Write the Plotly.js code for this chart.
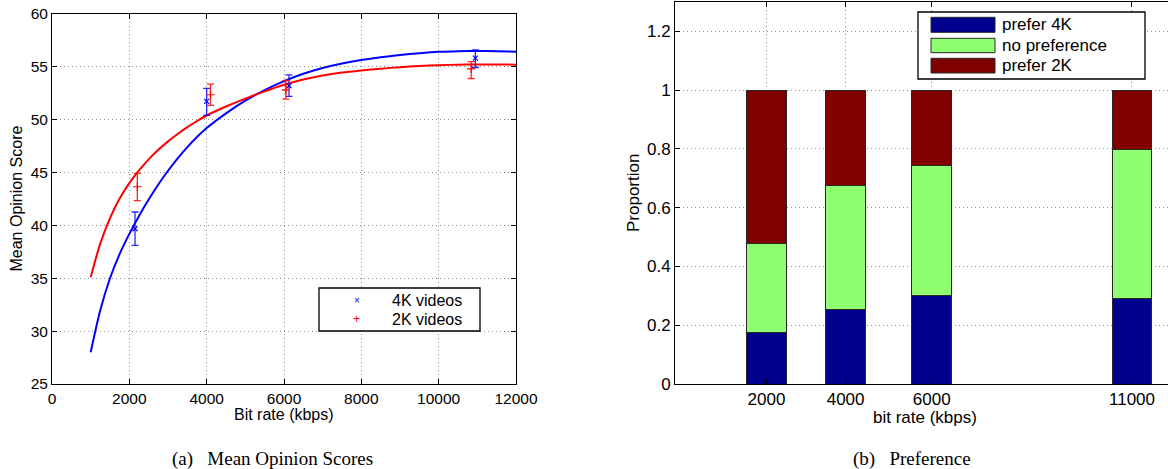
<!DOCTYPE html>
<html>
<head>
<meta charset="utf-8">
<script src="https://cdn.plot.ly/plotly-3.0.1.min.js"></script>
<style>
  html, body { margin: 0; padding: 0; background: #fff; }
  #chart { width: 1168px; height: 469px; }
</style>
</head>
<body>
<div id="chart"></div>
<script>
// ---------- Data: (a) Mean Opinion Scores ----------
const bitrate4K = [2147, 4000, 6129, 10949];
const mos4K = [39.69, 51.73, 53.21, 55.82];
const mos4KErrUp = [1.58, 1.23, 1.04, 0.78];
const mos4KErrDown = [1.57, 1.32, 1.01, 0.88];

const bitrate2K = [2207, 4098, 6049, 10842];
const mos2K = [43.66, 52.36, 52.83, 54.81];
const mos2KErrUp = [1.27, 1.00, 0.88, 0.69];
const mos2KErrDown = [1.32, 1.01, 0.88, 0.91];

// fitted curves
const fitBitrate = [1000, 1250, 1500, 1750, 2000, 2250, 2500, 2750, 3000, 3250, 3500, 3750, 4000,
                    4500, 5000, 5500, 6000, 6500, 7000, 7500, 8000, 8500, 9000, 9500, 10000, 10500, 11000, 11500, 12000];
const fit4K = [28.0, 32.0, 35.0, 37.3, 39.2, 40.9, 42.45, 43.87, 45.17, 46.35, 47.41, 48.36, 49.21,
               50.6, 51.8, 52.8, 53.65, 54.35, 54.9, 55.32, 55.65, 55.91, 56.12, 56.29, 56.42, 56.48, 56.5, 56.48, 56.44];
const fit2K = [35.1, 38.3, 40.7, 42.55, 44.0, 45.2, 46.25, 47.15, 47.95, 48.65, 49.3, 49.87, 50.4,
               51.25, 52.0, 52.68, 53.3, 53.8, 54.18, 54.46, 54.66, 54.83, 54.97, 55.08, 55.16, 55.21, 55.23, 55.23, 55.21];

const mosXTicks = [0, 2000, 4000, 6000, 8000, 10000, 12000];
const mosYTicks = [25, 30, 35, 40, 45, 50, 55, 60];

// ---------- Data: (b) Preference ----------
const prefBitrate = [2000, 3948, 6069, 11000];
const prefTickLabels = ['2000', '4000', '6000', '11000'];
const prefer4K = [0.175, 0.252, 0.300, 0.290];
const noPreference = [0.302, 0.425, 0.443, 0.508];
const prefer2K = [0.523, 0.323, 0.257, 0.202];
const prefYTicks = [0, 0.2, 0.4, 0.6, 0.8, 1, 1.2];

// ---------- helpers ----------
const W = 1168, H = 469;
const px = x => x / W;
const py = y => 1 - y / H;

const BLUE = 'rgb(0,0,255)';
const RED = 'rgb(255,0,0)';
const C4K = 'rgb(0,0,143)';
const CNO = 'rgb(143,255,112)';
const C2K = 'rgb(128,0,0)';
const SANS = 'Liberation Sans, Arial, sans-serif';
const SERIF = 'Liberation Serif, Times New Roman, serif';

const traces = [
  { x: fitBitrate, y: fit4K, type: 'scatter', mode: 'lines', line: { color: BLUE, width: 2, shape: 'spline', smoothing: 0.8 }, xaxis: 'x', yaxis: 'y', hoverinfo: 'skip' },
  { x: fitBitrate, y: fit2K, type: 'scatter', mode: 'lines', line: { color: RED, width: 2, shape: 'spline', smoothing: 0.8 }, xaxis: 'x', yaxis: 'y', hoverinfo: 'skip' },
  { x: bitrate4K, y: mos4K, type: 'scatter', mode: 'markers', name: '4K videos',
    marker: { symbol: 'x-thin', size: 5, color: BLUE, line: { color: BLUE, width: 1.2 } },
    error_y: { type: 'data', symmetric: false, array: mos4KErrUp, arrayminus: mos4KErrDown, color: 'rgba(0,0,255,0.85)', thickness: 1.3, width: 3.5 },
    xaxis: 'x', yaxis: 'y' },
  { x: bitrate2K, y: mos2K, type: 'scatter', mode: 'markers', name: '2K videos',
    marker: { symbol: 'cross-thin', size: 6, color: RED, line: { color: RED, width: 1.2 } },
    error_y: { type: 'data', symmetric: false, array: mos2KErrUp, arrayminus: mos2KErrDown, color: 'rgba(255,0,0,0.85)', thickness: 1.3, width: 3.5 },
    xaxis: 'x', yaxis: 'y' },
  { x: prefBitrate, y: prefer4K, type: 'bar', name: 'prefer 4K', width: 975, marker: { color: C4K, line: { color: 'rgb(40,40,40)', width: 1 } }, xaxis: 'x2', yaxis: 'y2' },
  { x: prefBitrate, y: noPreference, type: 'bar', name: 'no preference', width: 975, marker: { color: CNO, line: { color: 'rgb(40,40,40)', width: 1 } }, xaxis: 'x2', yaxis: 'y2' },
  { x: prefBitrate, y: prefer2K, type: 'bar', name: 'prefer 2K', width: 975, marker: { color: C2K, line: { color: 'rgb(40,40,40)', width: 1 } }, xaxis: 'x2', yaxis: 'y2' }
];

const gridStyle = { showgrid: true, gridcolor: 'rgb(140,140,140)', griddash: '1px,3px', gridwidth: 1 };
const axisCommon = {
  showline: true, linecolor: 'black', linewidth: 1, ticks: 'inside', ticklen: 5, tickcolor: 'black',
  zeroline: false, exponentformat: 'none', separatethousands: false, fixedrange: true
};

const layout = {
  width: W, height: H,
  margin: { l: 0, r: 0, t: 0, b: 0, pad: 0 },
  paper_bgcolor: 'white', plot_bgcolor: 'white',
  showlegend: false,
  barmode: 'stack',
  font: { family: SANS, color: 'black' },
  xaxis: Object.assign({}, axisCommon, gridStyle, {
    domain: [px(52), px(516)], range: [0, 12000], tickmode: 'array', tickvals: mosXTicks, tickformat: 'd',
    mirror: 'ticks', anchor: 'y', tickfont: { size: 15.5 }
  }),
  yaxis: Object.assign({}, axisCommon, gridStyle, {
    domain: [py(384), py(14)], range: [25, 60], tickmode: 'array', tickvals: mosYTicks,
    mirror: 'ticks', anchor: 'x', tickfont: { size: 15.5 }
  }),
  xaxis2: Object.assign({}, axisCommon, gridStyle, {
    domain: [px(675), 1], range: [-253, 11887], tickmode: 'array', tickvals: prefBitrate, ticktext: prefTickLabels,
    mirror: 'ticks', anchor: 'y2', tickfont: { size: 17 }
  }),
  yaxis2: Object.assign({}, axisCommon, gridStyle, {
    domain: [py(384), py(2)], range: [0, 1.3], tickmode: 'array', tickvals: prefYTicks,
    mirror: false, anchor: 'x2', tickfont: { size: 17 }
  }),
  shapes: [
    // legend (a)
    { type: 'rect', xref: 'paper', yref: 'paper', x0: px(319), x1: px(480), y0: py(331), y1: py(288), line: { color: 'black', width: 1.3 }, fillcolor: 'white', layer: 'above' },
    // legend (b)
    { type: 'rect', xref: 'paper', yref: 'paper', x0: px(918), x1: px(1145), y0: py(79), y1: py(12), line: { color: 'black', width: 1.3 }, fillcolor: 'white', layer: 'above' },
    { type: 'rect', xref: 'paper', yref: 'paper', x0: px(931), x1: px(995), y0: py(32.3), y1: py(17.3), line: { color: 'rgb(40,40,40)', width: 1 }, fillcolor: C4K, layer: 'above' },
    { type: 'rect', xref: 'paper', yref: 'paper', x0: px(931), x1: px(995), y0: py(52.7), y1: py(38.3), line: { color: 'rgb(40,40,40)', width: 1 }, fillcolor: CNO, layer: 'above' },
    { type: 'rect', xref: 'paper', yref: 'paper', x0: px(931), x1: px(995), y0: py(73), y1: py(58.3), line: { color: 'rgb(40,40,40)', width: 1 }, fillcolor: C2K, layer: 'above' }
  ],
  annotations: [
    // legend (a)
    { xref: 'paper', yref: 'paper', x: px(357), y: py(300.7), text: '×', showarrow: false, font: { size: 10, color: BLUE }, xanchor: 'center', yanchor: 'middle' },
    { xref: 'paper', yref: 'paper', x: px(357), y: py(319.3), text: '+', showarrow: false, font: { size: 12, color: RED }, xanchor: 'center', yanchor: 'middle' },
    { xref: 'paper', yref: 'paper', x: px(390), y: py(300.7), text: '4K videos', showarrow: false, font: { size: 16 }, xanchor: 'left', yanchor: 'middle' },
    { xref: 'paper', yref: 'paper', x: px(390), y: py(319.3), text: '2K videos', showarrow: false, font: { size: 16 }, xanchor: 'left', yanchor: 'middle' },
    // legend (b)
    { xref: 'paper', yref: 'paper', x: px(1000), y: py(24.8), text: 'prefer 4K', showarrow: false, font: { size: 17 }, xanchor: 'left', yanchor: 'middle' },
    { xref: 'paper', yref: 'paper', x: px(1000), y: py(45.5), text: 'no preference', showarrow: false, font: { size: 17 }, xanchor: 'left', yanchor: 'middle' },
    { xref: 'paper', yref: 'paper', x: px(1000), y: py(65.7), text: 'prefer 2K', showarrow: false, font: { size: 17 }, xanchor: 'left', yanchor: 'middle' },
    // axis titles
    { xref: 'paper', yref: 'paper', x: px(284), y: py(414), text: 'Bit rate (kbps)', showarrow: false, font: { size: 16 }, xanchor: 'center', yanchor: 'middle' },
    { xref: 'paper', yref: 'paper', x: px(16.5), y: py(199), text: 'Mean Opinion Score', showarrow: false, textangle: -90, font: { size: 16 }, xanchor: 'center', yanchor: 'middle' },
    { xref: 'paper', yref: 'paper', x: px(925), y: py(417), text: 'bit rate (kbps)', showarrow: false, font: { size: 17 }, xanchor: 'center', yanchor: 'middle' },
    { xref: 'paper', yref: 'paper', x: px(633), y: py(193), text: 'Proportion', showarrow: false, textangle: -90, font: { size: 17 }, xanchor: 'center', yanchor: 'middle' },
    // captions
    { xref: 'paper', yref: 'paper', x: px(272), y: py(459), text: '(a)\u2002 Mean Opinion Scores', showarrow: false, font: { size: 19, family: SERIF }, xanchor: 'center', yanchor: 'middle' },
    { xref: 'paper', yref: 'paper', x: px(912), y: py(459), text: '(b)\u2002 Preference', showarrow: false, font: { size: 19, family: SERIF }, xanchor: 'center', yanchor: 'middle' }
  ]
};

Plotly.newPlot('chart', traces, layout, { displayModeBar: false, staticPlot: true });
</script>
</body>
</html>
